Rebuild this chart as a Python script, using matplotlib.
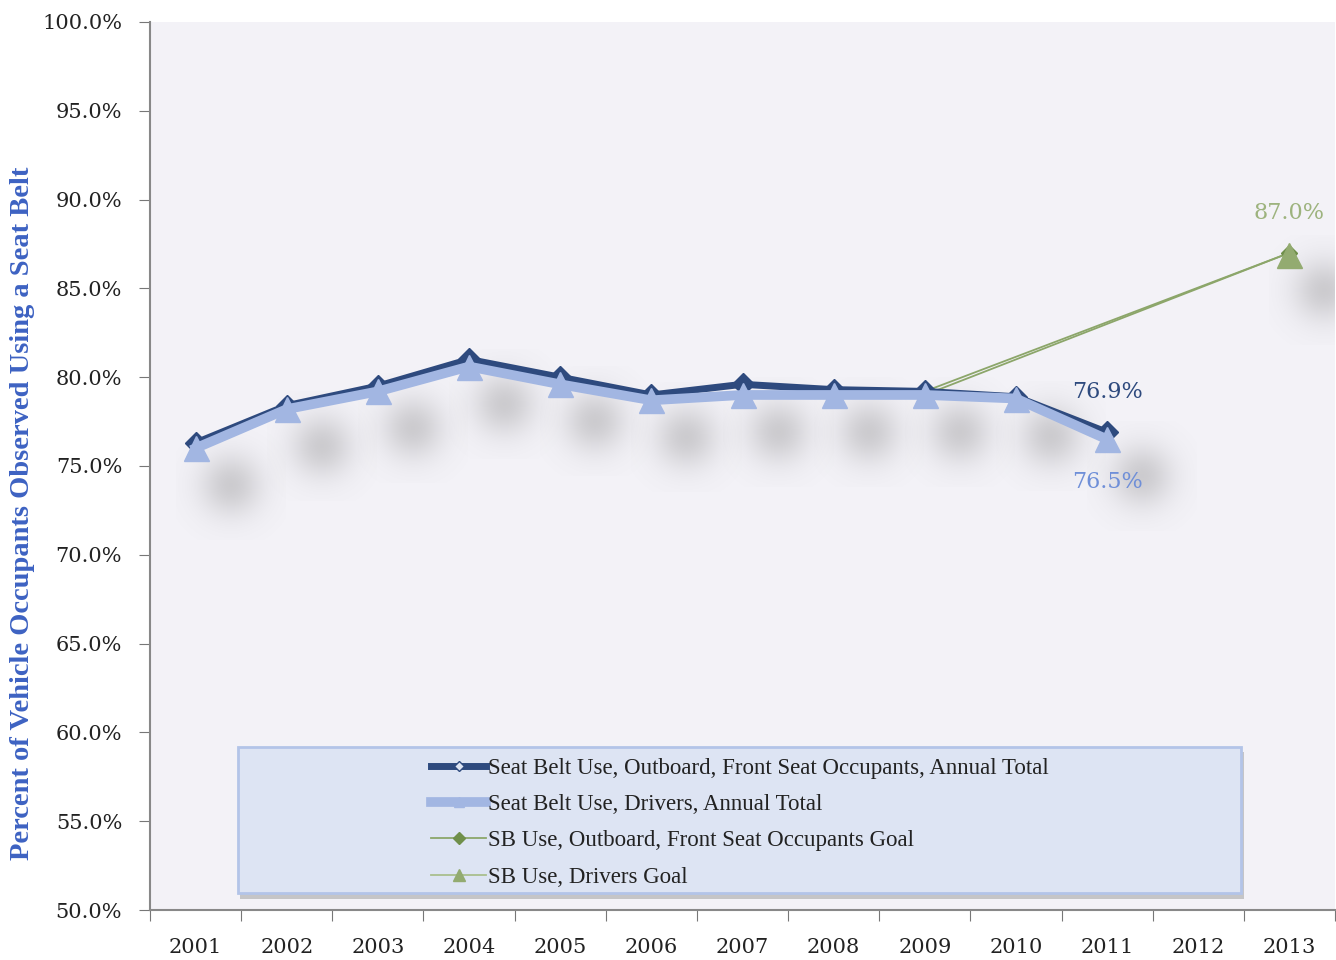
import numpy as np
import matplotlib
matplotlib.use('Agg')
import matplotlib.pyplot as plt
from matplotlib.patches import FancyBboxPatch
from matplotlib.lines import Line2D
import matplotlib.patheffects as pe

# data
years = ['2001', '2002', '2003', '2004', '2005', '2006', '2007',
         '2008', '2009', '2010', '2011', '2012', '2013']
outboard = [76.3, 78.4, 79.5, 81.0, 80.0, 79.0, 79.6, 79.3, 79.2, 78.9, 76.9]
drivers = [76.0, 78.2, 79.2, 80.6, 79.6, 78.7, 79.0, 79.0, 79.0, 78.8, 76.5]
goal_years = ['2009', '2013']
outboard_goal = [79.2, 87.0]
drivers_goal = [79.0, 87.0]

labels = ['Seat Belt Use, Outboard, Front Seat Occupants, Annual Total',
          'Seat Belt Use, Drivers, Annual Total',
          'SB Use, Outboard, Front Seat Occupants Goal',
          'SB Use, Drivers Goal']

dark = '#2E4A7E'
light = '#A2B6E2'
green = '#8CA66A'
dgreen = '#6F8F4A'

fig = plt.figure(figsize=(13.36, 9.6), dpi=100)
ax = fig.add_axes([150/1336, 50/960, 1185/1336, 888/960])
ax.set_facecolor('#F3F2F7')

x = np.arange(len(years))
xo = x[:len(outboard)]
xg = [years.index(y) for y in goal_years]

ax.set_xlim(-0.5, len(years) - 0.5)
ax.set_ylim(50, 100)

# soft grey shadows under the markers (gaussian sprite)
n = 101
g = np.linspace(-1, 1, n)
gx, gy = np.meshgrid(g, g)
sprite = np.zeros((n, n, 4))
sprite[..., :3] = 0.45
sprite[..., 3] = 0.3 * np.exp(-(gx**2 + gy**2) / (2 * 0.4**2))
px_x = 1185 / len(years)   # pixels per category
px_y = 888 / 50            # pixels per percent


def blob(xv, yv):
    cx = xv + 35 / px_x
    cy = yv - 37 / px_y
    rx = 55 / px_x
    ry = 55 / px_y
    ax.imshow(sprite, extent=(cx - rx, cx + rx, cy - ry, cy + ry),
              aspect='auto', interpolation='bilinear', zorder=1)


for xv, yv in zip(xo, drivers):
    blob(xv, yv)
blob(xg[-1], drivers_goal[-1])

# goal lines
ax.plot(xg, outboard_goal, color=green, lw=1.3, zorder=2)
ax.plot(xg, drivers_goal, color=green, lw=1.3, zorder=2)
ax.plot(xg[-1], outboard_goal[-1], marker='D', ms=8, color=dgreen, zorder=3)
ax.plot(xg[-1], drivers_goal[-1] - 0.1, marker='^', ms=18, color='#93AB70', zorder=4)

# main series
ax.plot(xo, outboard, color=dark, lw=5, marker='D', ms=11,
        markerfacecolor=dark, markeredgecolor=dark, zorder=5)
ax.plot(xo, drivers, color=light, lw=7, marker='^', ms=18,
        markerfacecolor=light, markeredgecolor=light, zorder=6)

# labels on last points
ax.annotate(f'{outboard[-1]:.1f}%', (xo[-1], outboard[-1]), xytext=(0, 29),
            textcoords='offset points', ha='center', va='center',
            color=dark, fontsize=16, family='DejaVu Serif', zorder=8)
ax.annotate(f'{drivers[-1]:.1f}%', (xo[-1], drivers[-1]), xytext=(0, -31),
            textcoords='offset points', ha='center', va='center',
            color='#6F8FD8', fontsize=16, family='DejaVu Serif', zorder=8)
ax.annotate(f'{drivers_goal[-1]:.1f}%', (xg[-1], drivers_goal[-1]), xytext=(0, 29),
            textcoords='offset points', ha='center', va='center',
            color='#9DB37E', fontsize=16, family='DejaVu Serif', zorder=8)

# axes
ax.set_xlim(-0.5, len(years) - 0.5)
ax.set_ylim(50, 100)
ax.set_yticks(np.arange(50, 100.1, 5))
ax.set_yticklabels([f'{v:.1f}%' for v in np.arange(50, 100.1, 5)],
                   family='DejaVu Serif', fontsize=15, color='#222222')
ax.set_xticks(np.arange(-0.5, len(years), 1))
ax.set_xticklabels([])
ax.set_xticks(x, minor=True)
ax.set_xticklabels(years, minor=True, family='DejaVu Serif', fontsize=15, color='#222222')
ax.tick_params(axis='x', which='minor', length=0, pad=20)
ax.tick_params(axis='x', which='major', length=8, color='#777777', direction='out')
ax.tick_params(axis='y', length=8, color='#777777', direction='out', pad=12)
for s in ['top', 'right']:
    ax.spines[s].set_visible(False)
for s in ['left', 'bottom']:
    ax.spines[s].set_color('#888888')
    ax.spines[s].set_linewidth(1.5)

ax.set_ylabel('Percent of Vehicle Occupants Observed Using a Seat Belt',
              family='Liberation Serif', fontweight='bold', fontsize=20.5,
              color='#3D62C2')
ax.yaxis.set_label_coords(-0.097, 0.447)

# legend box
box = FancyBboxPatch((0.074, 0.019), 0.847, 0.165, boxstyle='square,pad=0',
                     transform=ax.transAxes, facecolor='#DDE4F3',
                     edgecolor='#B3C4E8', lw=2, zorder=9,
                     path_effects=[pe.SimplePatchShadow(offset=(2, -4), shadow_rgbFace='#999999', alpha=0.5),
                                   pe.Normal()])
ax.add_patch(box)

handles = [
    Line2D([], [], color=dark, lw=5, marker='D', ms=5, markerfacecolor='#DDE4F3', markeredgecolor=dark),
    Line2D([], [], color=light, lw=7, marker='^', ms=7, markerfacecolor=light, markeredgecolor=light),
    Line2D([], [], color=green, lw=1.3, marker='D', ms=6, markerfacecolor=dgreen, markeredgecolor=dgreen),
    Line2D([], [], color='#A9BF8E', lw=1.3, marker='^', ms=8, markerfacecolor='#93AB70', markeredgecolor='#93AB70'),
]
leg = ax.legend(handles, labels, loc='upper left', bbox_to_anchor=(0.2275, 0.1845),
                frameon=False, handlelength=2.4, handletextpad=0.1,
                labelspacing=0.67, borderpad=0,
                prop={'family': 'Liberation Serif', 'size': 16.5})
leg.set_zorder(10)
for t in leg.get_texts():
    t.set_color('#222222')

fig.savefig('out.png', dpi=100, facecolor='white')
